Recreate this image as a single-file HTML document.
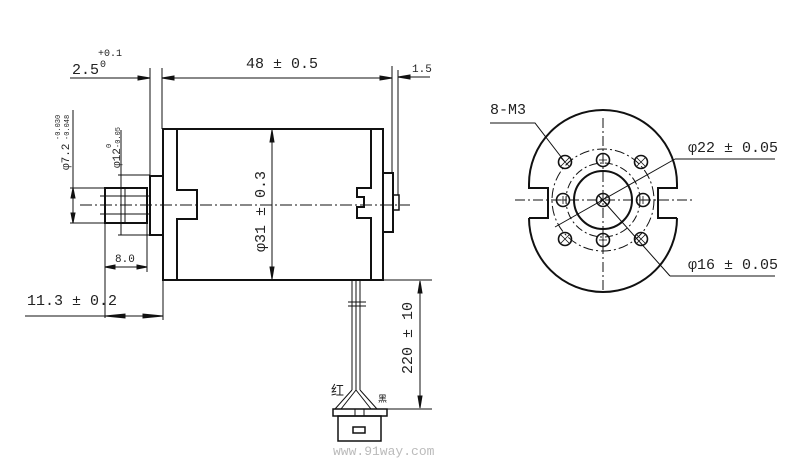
<!DOCTYPE html>
<html><head><meta charset="utf-8"><style>
html,body{margin:0;padding:0;background:#fff;width:800px;height:463px;overflow:hidden}
text{font-family:"Liberation Mono","Noto Sans CJK SC",monospace;fill:#222}
</style></head><body>
<svg width="800" height="463" viewBox="0 0 800 463" xmlns="http://www.w3.org/2000/svg">
<g stroke="#111" fill="none" stroke-width="1">
<rect x="163" y="129" width="220" height="151" stroke-width="2"/>
<path d="M177 129 V190 H197 V219 H177 V280" stroke-width="2"/>
<path d="M371 129 V188 H357 V197 H364 V207 H357 V218 H371 V280" stroke-width="2"/>
<rect x="150" y="176" width="13" height="59" stroke-width="2"/>
<rect x="105" y="188" width="42" height="35" stroke-width="2"/>
<rect x="147" y="196" width="3" height="18"/>
<line x1="125" y1="188" x2="125" y2="223"/>
<line x1="100" y1="196" x2="147" y2="196"/><line x1="100" y1="214" x2="147" y2="214"/>
<rect x="383" y="173" width="10" height="59" stroke-width="2"/>
<rect x="393" y="195" width="6" height="15" stroke-width="1.5"/>
<line x1="80" y1="205" x2="410" y2="205" stroke-dasharray="12,3,2,3"/>
<line x1="150" y1="68" x2="150" y2="176"/><line x1="162" y1="68" x2="162" y2="129"/>
<line x1="392" y1="66" x2="392" y2="173"/><line x1="398" y1="70" x2="398" y2="195"/>
<line x1="70" y1="78" x2="150" y2="78"/><line x1="162" y1="78" x2="392" y2="78"/><line x1="398" y1="77" x2="430" y2="77"/>
<path d="M150 78 l-12 -2 v4z M162 78 l12 -2 v4z M392 78 l-12 -2 v4z M398 77 l12 -2 v4z" fill="#111"/>
<line x1="272" y1="130" x2="272" y2="279"/>
<path d="M272 130 l-2 12 h4z M272 279 l-2 -12 h4z" fill="#111"/>
<line x1="73" y1="110" x2="73" y2="223"/><line x1="70" y1="188" x2="105" y2="188"/><line x1="70" y1="223" x2="105" y2="223"/>
<path d="M73 188 l-2 10 h4z M73 223 l-2 -10 h4z" fill="#111"/>
<line x1="121" y1="130" x2="121" y2="235"/><line x1="118" y1="175" x2="150" y2="175"/><line x1="118" y1="235" x2="150" y2="235"/>
<line x1="105" y1="223" x2="105" y2="318"/><line x1="147" y1="223" x2="147" y2="272"/>
<line x1="105" y1="267" x2="147" y2="267"/>
<path d="M105 267 l10 -2 v4z M147 267 l-10 -2 v4z" fill="#111"/>
<line x1="163" y1="280" x2="163" y2="320"/>
<line x1="25" y1="316" x2="163" y2="316"/>
<path d="M105 316 l20 -2 v4z M163 316 l-20 -2 v4z" fill="#111"/>
<line x1="352" y1="280" x2="352" y2="390"/><line x1="356" y1="280" x2="356" y2="390"/><line x1="360" y1="280" x2="360" y2="390"/>
<line x1="348" y1="302" x2="366" y2="302"/><line x1="348" y1="306" x2="366" y2="306"/>
<path d="M352 390 L335 409 M356 390 L341 409 M356 390 L371 409 M360 390 L377 409"/>
<rect x="333" y="409" width="54" height="7" stroke-width="1.5"/>
<line x1="355" y1="409" x2="355" y2="416"/><line x1="364" y1="409" x2="364" y2="416"/>
<rect x="338" y="416" width="43" height="25" stroke-width="1.5"/>
<rect x="353" y="427" width="12" height="6" stroke-width="1.5"/>
<line x1="383" y1="280" x2="432" y2="280"/><line x1="387" y1="409" x2="432" y2="409"/>
<line x1="420" y1="281" x2="420" y2="408"/>
<path d="M420 281 l-2 12 h4z M420 408 l-2 -12 h4z" fill="#111"/>
<path d="M529 184 A70 70 0 0 1 677 184 M677 218 A70 70 0 0 1 529 218" stroke-width="2"/>
<path d="M529 184 V188 H548 V218 H529 M677 184 V188 H658 V218 H677" stroke-width="2"/>
<circle cx="603" cy="200" r="51" stroke-dasharray="10,3,2,3"/>
<circle cx="603" cy="200" r="37" stroke-dasharray="8,3,2,3"/>
<circle cx="603" cy="200" r="29" stroke-width="2"/>
<line x1="603" y1="118" x2="603" y2="292" stroke-dasharray="10,3,2,3"/>
<line x1="515" y1="200" x2="692" y2="200" stroke-dasharray="10,3,2,3"/>
<g stroke-width="1.6">
<circle cx="565" cy="162" r="6.5"/><circle cx="603" cy="160" r="6.5"/><circle cx="641" cy="162" r="6.5"/>
<circle cx="563" cy="200" r="6.5"/><circle cx="603" cy="200" r="6.5"/><circle cx="643" cy="200" r="6.5"/>
<circle cx="565" cy="239" r="6.5"/><circle cx="603" cy="240" r="6.5"/><circle cx="641" cy="239" r="6.5"/>
</g>
<g stroke-width="0.8">
<path d="M561 158 l8 8 M569 158 l-8 8 M599 160 h8 M603 156 v8 M637 158 l8 8 M645 158 l-8 8"/>
<path d="M559 200 h8 M563 196 v8 M599 196 l8 8 M607 196 l-8 8 M639 200 h8 M643 196 v8"/>
<path d="M561 235 l8 8 M569 235 l-8 8 M599 240 h8 M603 236 v8 M637 235 l8 8 M645 235 l-8 8"/>
</g>
<path d="M490 123 H535 L565 162"/>
<path d="M675 159 H775 M675 159 L555 227"/>
<path d="M670 276 H775 M670 276 L598 195"/>
</g>
<g font-size="15">
<text x="72" y="74">2.5</text><text x="98" y="56" font-size="10">+0.1</text><text x="100" y="67" font-size="10">0</text>
<text x="246" y="68">48 ± 0.5</text>
<text x="412" y="72" font-size="11">1.5</text>
<text x="490" y="114">8-M3</text>
<text x="688" y="152">φ22 ± 0.05</text>
<text x="688" y="269">φ16 ± 0.05</text>
<text x="115" y="262" font-size="11">8.0</text>
<text x="27" y="305">11.3 ± 0.2</text>
<text transform="translate(265,252) rotate(-90)">φ31 ± 0.3</text>
<text transform="translate(69,170) rotate(-90)" font-size="11">φ7.2</text><text transform="translate(60,140) rotate(-90)" font-size="7">-0.030</text><text transform="translate(69,140) rotate(-90)" font-size="7">-0.048</text>
<text transform="translate(120,168) rotate(-90)" font-size="11">φ12</text><text transform="translate(120,148) rotate(-90)" font-size="7">-0.05</text><text transform="translate(111,148) rotate(-90)" font-size="7">0</text>
<text transform="translate(412,374) rotate(-90)">220 ± 10</text>
<text x="331" y="395" font-size="13">红</text><text x="378" y="402" font-size="9">黑</text>
<text x="333" y="455" font-size="13" style="fill:#bbb">www.91way.com</text>
</g>
</svg>
</body></html>
